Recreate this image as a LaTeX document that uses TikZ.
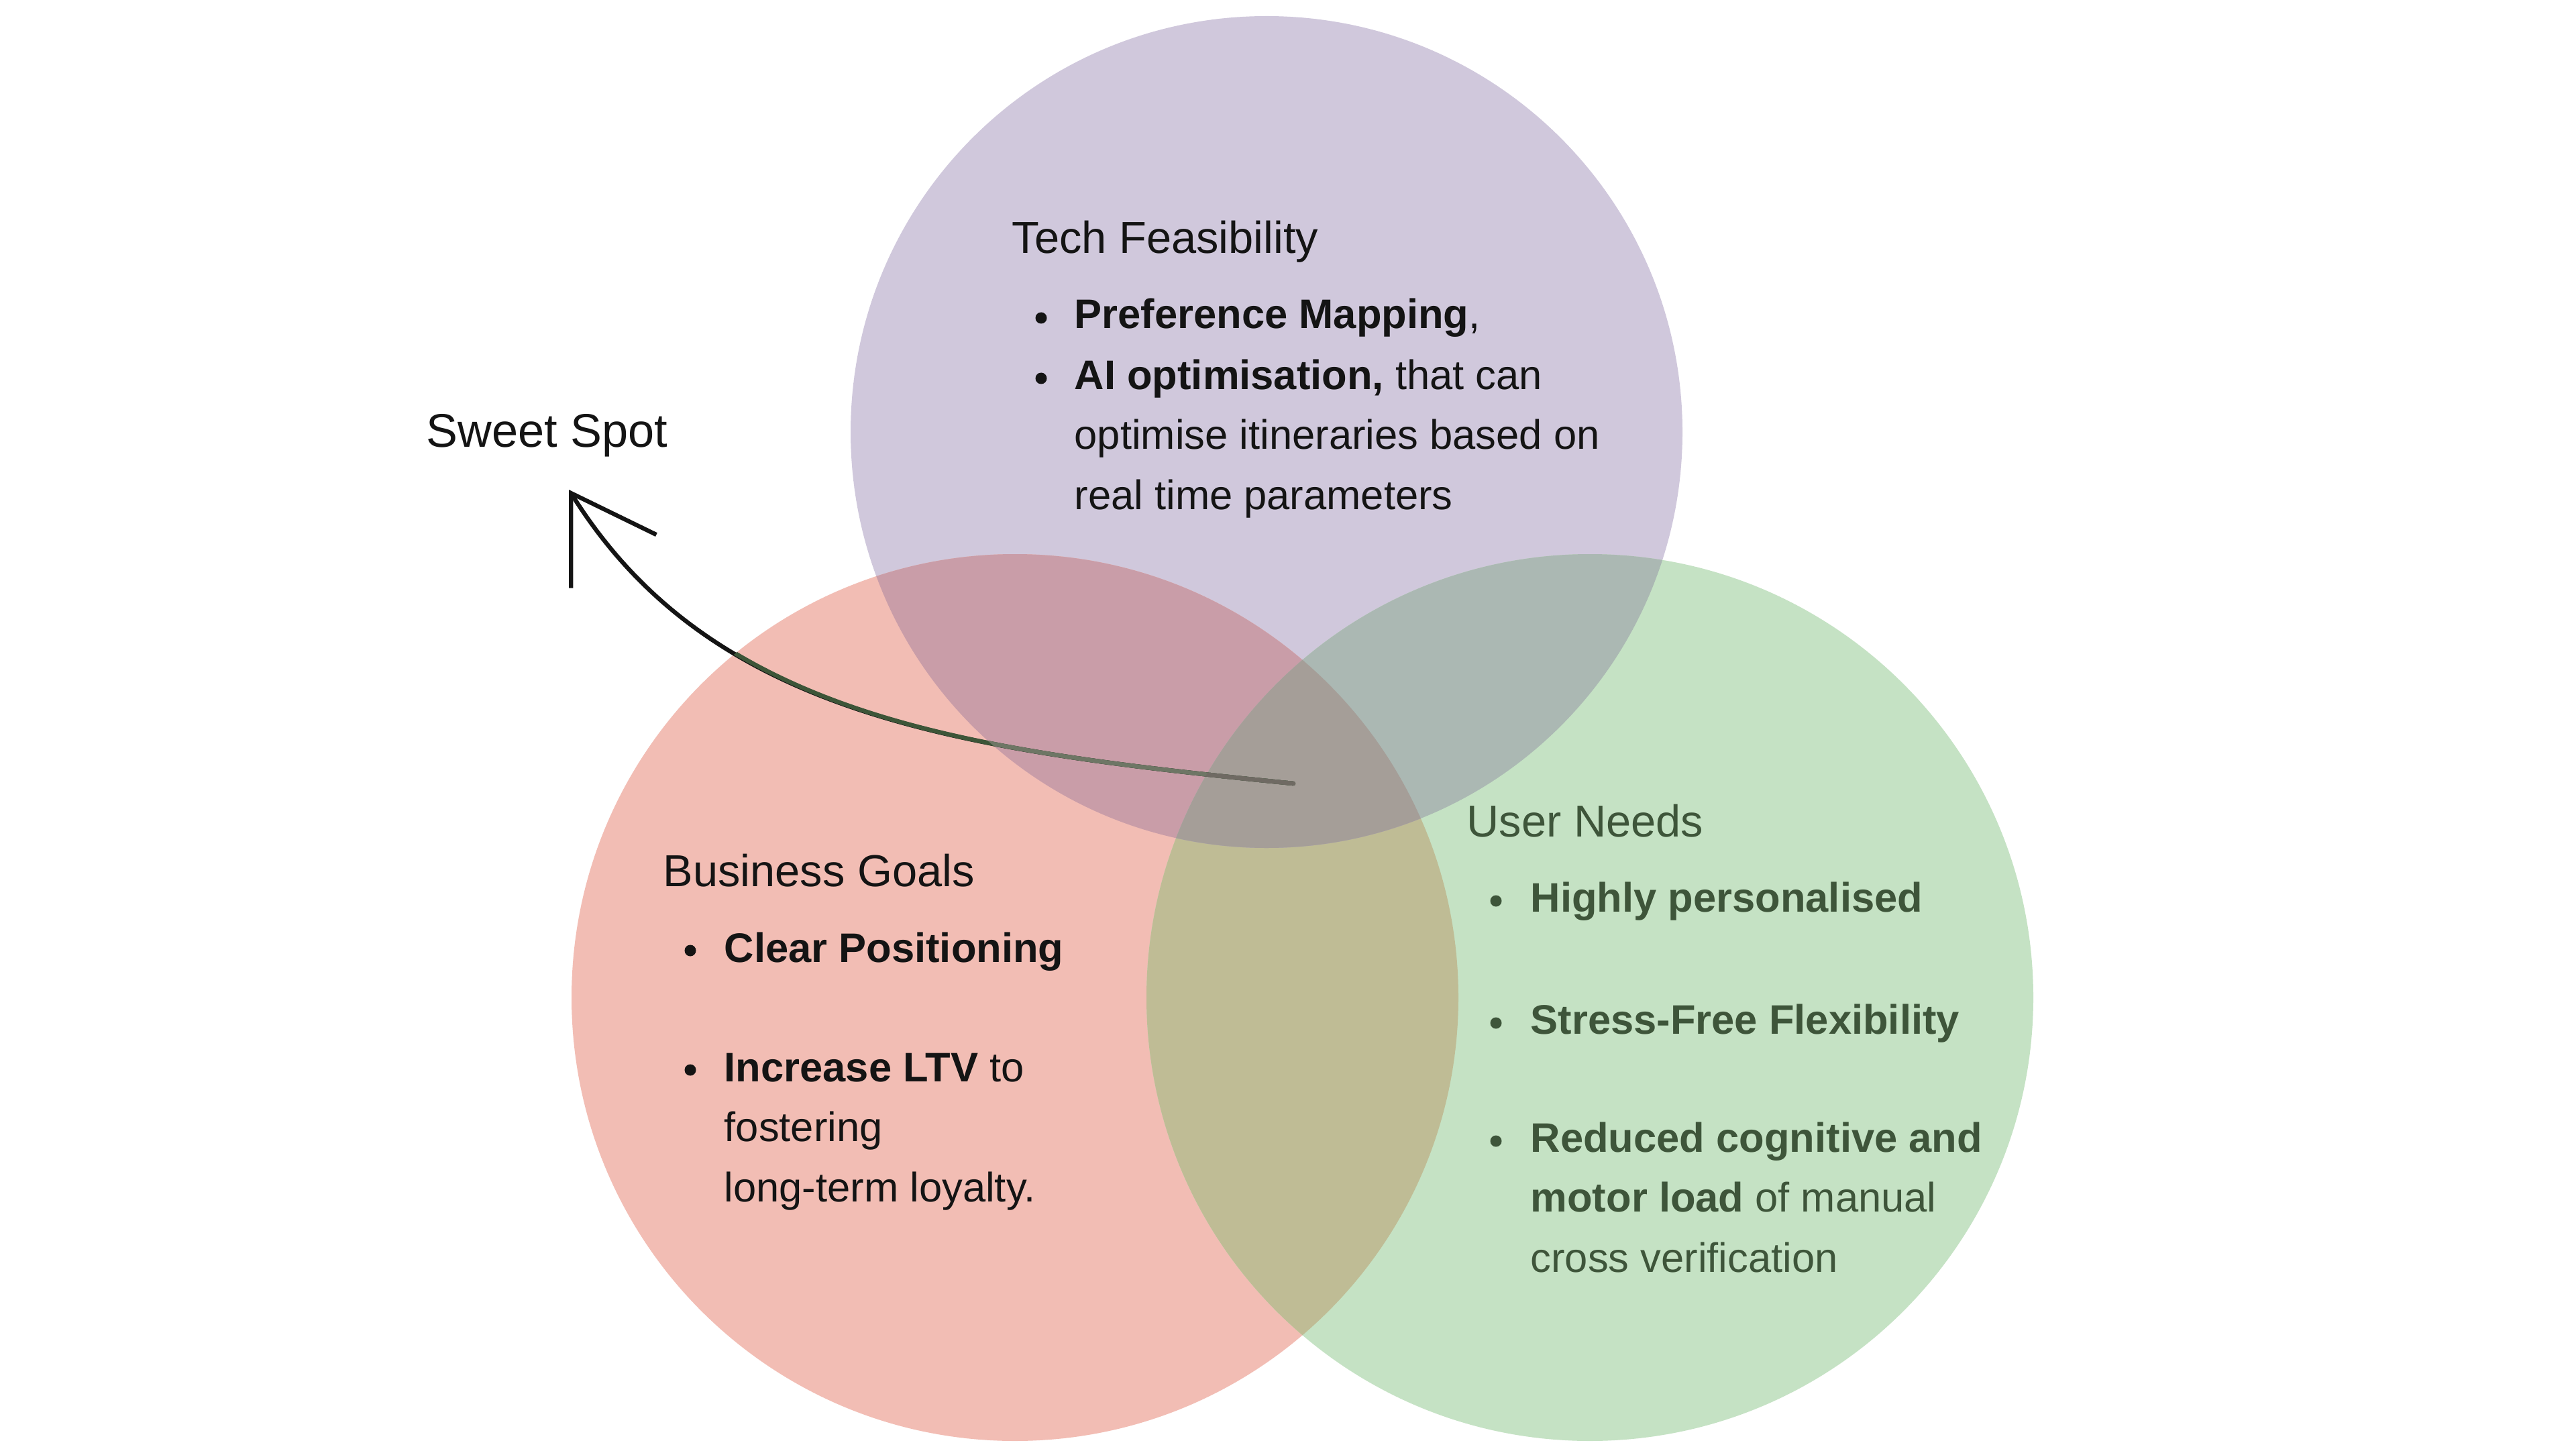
\documentclass[tikz,border=0pt]{standalone}
\usepackage{fontspec}
\setmainfont{Liberation Sans}
\usetikzlibrary{positioning, arrows.meta, calc}

\definecolor{techfill}{RGB}{208,200,220}
\definecolor{bizfill}{RGB}{242,189,180}
\definecolor{userfill}{RGB}{197,226,196}
\definecolor{bizTech}{RGB}{201,157,168}
\definecolor{userTech}{RGB}{171,184,179}
\definecolor{bizUser}{RGB}{191,188,149}
\definecolor{allThree}{RGB}{165,158,152}
\definecolor{inkdark}{RGB}{20,20,20}
\definecolor{inkgreen}{RGB}{62,85,58}
\definecolor{lineBiz}{RGB}{61,85,56}
\definecolor{lineBizTech}{RGB}{110,118,101}
\definecolor{lineAll}{RGB}{111,106,99}

% several lines, baseline on the first one
\newcommand{\itemlines}[1]{\begin{tabular}[t]{@{}l@{}}#1\end{tabular}}

\begin{document}
\begin{tikzpicture}[
  head/.style={anchor=base west, inner sep=0pt, text=inkdark, font=\fontsize{19}{23}\selectfont},
  item/.style={anchor=base west, inner sep=0pt, text=inkdark, font=\fontsize{17.5}{25.6}\selectfont},
  dot/.style={circle, fill=inkdark, inner sep=0pt, minimum size=0.17cm},
  spotline/.style={line width=1.8pt, line cap=round, draw=inkdark}
]
\fill[white] (0,0) rectangle (38.4,-21.6);
\useasboundingbox (0,0) rectangle (38.4,-21.6);

% circle centres
\coordinate (tech) at (18.88,-6.44);
\coordinate (biz) at (15.13,-14.87);
\coordinate (user) at (23.70,-14.87);

% circles and overlaps
\fill[techfill] (tech) circle (6.20);
\fill[bizfill] (biz) circle (6.61);
\fill[userfill] (user) circle (6.61);
\begin{scope}
  \clip (biz) circle (6.61);
  \fill[bizUser] (user) circle (6.61);
\end{scope}
\begin{scope}
  \clip (tech) circle (6.20);
  \fill[bizTech] (biz) circle (6.61);
  \fill[userTech] (user) circle (6.61);
  \clip (biz) circle (6.61);
  \fill[allThree] (user) circle (6.61);
\end{scope}

% Tech Feasibility
\node[head] (techhead) at (15.08,-3.78) {Tech Feasibility};
\node[item] (tech1) at (16.01,-4.90) {\textbf{Preference Mapping},};
\node[item] (tech2) at (16.01,-5.80) {\itemlines{\textbf{AI optimisation,} that can\\optimise itineraries based on\\real time parameters}};
\node[dot] (techdot1) at ($(tech1.base west)+(-0.49,0.16)$) {};
\node[dot] (techdot2) at ($(tech2.base west)+(-0.49,0.16)$) {};

% Business Goals
\node[head] (bizhead) at (9.88,-13.21) {Business Goals};
\node[item] (biz1) at (10.79,-14.34) {\textbf{Clear Positioning}};
\node[item] (biz2) at (10.79,-16.12) {\itemlines{\textbf{Increase LTV} to\\fostering\\long-term loyalty.}};
\node[dot] (bizdot1) at ($(biz1.base west)+(-0.50,0.17)$) {};
\node[dot] (bizdot2) at ($(biz2.base west)+(-0.50,0.17)$) {};

% User Needs
\node[head, text=inkgreen] (userhead) at (21.86,-12.47) {User Needs};
\node[item, text=inkgreen] (user1) at (22.81,-13.59) {\textbf{Highly personalised}};
\node[item, text=inkgreen] (user2) at (22.81,-15.41) {\textbf{Stress-Free Flexibility}};
\node[item, text=inkgreen] (user3) at (22.81,-17.17) {\itemlines{\textbf{Reduced cognitive and}\\\textbf{motor load} of manual\\cross verification}};
\node[dot, fill=inkgreen] (userdot1) at ($(user1.base west)+(-0.51,0.16)$) {};
\node[dot, fill=inkgreen] (userdot2) at ($(user2.base west)+(-0.51,0.16)$) {};
\node[dot, fill=inkgreen] (userdot3) at ($(user3.base west)+(-0.51,0.16)$) {};

% Sweet Spot arrow
\node[head, font=\fontsize{20}{24}\selectfont] (spot) at (6.35,-6.67) {Sweet Spot};
\coordinate (tip) at (8.48,-7.30);
\coordinate (sweet) at (19.28,-11.68);
\coordinate (bendA) at (14.31,-11.18);
\coordinate (bendB) at (10.60,-10.69);
\draw[spotline, -{Straight Barb[length=1.2cm, width=1.5cm]}] (sweet) .. controls (bendA) and (bendB) .. (tip);
\begin{scope}
  \clip (biz) circle (6.61);
  \draw[spotline, draw=lineBiz] (sweet) .. controls (bendA) and (bendB) .. (tip);
  \clip (tech) circle (6.20);
  \draw[spotline, draw=lineBizTech] (sweet) .. controls (bendA) and (bendB) .. (tip);
  \clip (user) circle (6.61);
  \draw[spotline, draw=lineAll] (sweet) .. controls (bendA) and (bendB) .. (tip);
\end{scope}
\end{tikzpicture}
\end{document}
